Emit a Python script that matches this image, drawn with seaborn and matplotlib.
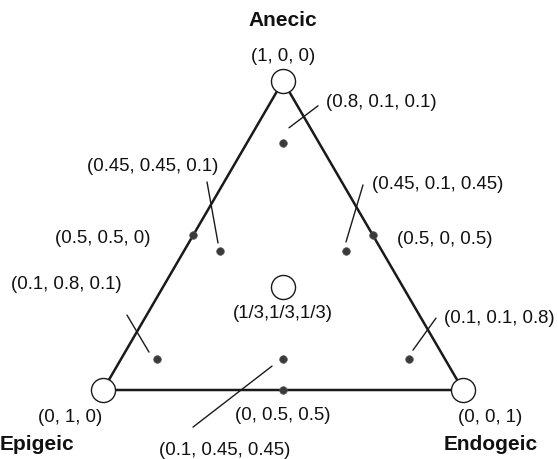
import numpy as np
import pandas as pd
import matplotlib
matplotlib.use("Agg")
import matplotlib.pyplot as plt
import seaborn as sns

# Functional-group proportions (anecic, epigeic, endogeic)
anecic   = [1, 0, 0, 1/3, 0.5, 0.5, 0, 0.8, 0.45, 0.45, 0.1, 0.1, 0.1]
epigeic  = [0, 1, 0, 1/3, 0.5, 0, 0.5, 0.1, 0.45, 0.1, 0.8, 0.1, 0.45]
endogeic = [0, 0, 1, 1/3, 0, 0.5, 0.5, 0.1, 0.1, 0.45, 0.1, 0.8, 0.45]
point_labels = ["(1, 0, 0)", "(0, 1, 0)", "(0, 0, 1)", "(1/3,1/3,1/3)",
                "(0.5, 0.5, 0)", "(0.5, 0, 0.5)", "(0, 0.5, 0.5)",
                "(0.8, 0.1, 0.1)", "(0.45, 0.45, 0.1)", "(0.45, 0.1, 0.45)",
                "(0.1, 0.8, 0.1)", "(0.1, 0.1, 0.8)", "(0.1, 0.45, 0.45)"]
marker_kind = ["open", "open", "open", "open",
               "dot", "dot", "dot", "dot", "dot", "dot", "dot", "dot", "dot"]
corner_names = ["Anecic", "Epigeic", "Endogeic"]

# Ternary -> cartesian (epigeic at left, endogeic at right, anecic on top)
H = 309 / 360
df = pd.DataFrame({"anecic": anecic, "epigeic": epigeic, "endogeic": endogeic,
                   "label": point_labels, "kind": marker_kind})
df["x"] = df["endogeic"] + 0.5 * df["anecic"]
df["y"] = H * df["anecic"]

# Label placement: (dx, dy) in pixels from the point, ha,
# optional leader line (x0, y0, x1, y1) in pixels from the point (y down)
layout = {
    "(1, 0, 0)":         ((0, -24), "center", None),
    "(0, 1, 0)":         ((-33, 27), "center", None),
    "(0, 0, 1)":         ((27, 27), "center", None),
    "(1/3,1/3,1/3)":     ((0, 26), "center", None),
    "(0.5, 0.5, 0)":     ((-90, 3), "center", None),
    "(0.5, 0, 0.5)":     ((72, 4), "center", None),
    "(0, 0.5, 0.5)":     ((0, 26), "center", None),
    "(0.8, 0.1, 0.1)":   ((43, -40), "left", (6, -15, 35, -37)),
    "(0.45, 0.45, 0.1)": ((-67, -84), "center", (-13, -69, -2, -8)),
    "(0.45, 0.1, 0.45)": ((26, -66), "left", (17, -66, 0, -9)),
    "(0.1, 0.8, 0.1)":   ((-35, -75), "right", (-30, -44, -8, -7)),
    "(0.1, 0.1, 0.8)":   ((35, -41), "left", (27, -41, 4, -9)),
    "(0.1, 0.45, 0.45)": ((-58, 91), "center", (-11, 7, -90, 68)),
}
corner_offsets = [(0, -61), (-66, 54), (28, 54)]

sns.set_style("white")
plt.rcParams["font.family"] = ["Liberation Sans", "DejaVu Sans"]

W, Hpx = 558, 459
fig = plt.figure(figsize=(W / 100, Hpx / 100), dpi=100)
ax = fig.add_axes([0, 0, 1, 1])
scale = 360.0  # pixels per unit
ax.set_xlim(-103 / scale, (W - 103) / scale)
ax.set_ylim(-(Hpx - 390) / scale, 390 / scale)
ax.axis("off")

# Triangle outline through the three pure-group corners
corners = df[df["kind"] == "open"].iloc[:3]
tx = list(corners["x"]) + [corners["x"].iloc[0]]
ty = list(corners["y"]) + [corners["y"].iloc[0]]
ax.plot(tx, ty, color="#1a1a1a", lw=1.8, zorder=1, solid_joinstyle="miter")

sns.scatterplot(data=df[df["kind"] == "open"], x="x", y="y", ax=ax,
                s=300, facecolor="white", edgecolor="#1a1a1a", linewidth=1.0,
                zorder=3, legend=False)
sns.scatterplot(data=df[df["kind"] == "dot"], x="x", y="y", ax=ax,
                s=30, color="#3a3a3a", edgecolor="#555555", linewidth=0.5,
                marker="o", zorder=3, legend=False)

def px(x, y, dx, dy):
    return x + dx / scale, y - dy / scale

for _, r in df.iterrows():
    (dx, dy), ha, leader = layout[r["label"]]
    tx_, ty_ = px(r["x"], r["y"], dx, dy)
    ax.text(tx_, ty_, r["label"], ha=ha, va="center", fontsize=13.4,
            color="#111111", zorder=4)
    if leader is not None:
        x0, y0 = px(r["x"], r["y"], leader[0], leader[1])
        x1, y1 = px(r["x"], r["y"], leader[2], leader[3])
        ax.plot([x0, x1], [y0, y1], color="#1a1a1a", lw=1.0, zorder=2)

for i, name in enumerate(corner_names):
    cx, cy = corners["x"].iloc[i], corners["y"].iloc[i]
    dx, dy = corner_offsets[i]
    tx_, ty_ = px(cx, cy, dx, dy)
    ax.text(tx_, ty_, name, ha="center", va="center", fontsize=15,
            fontweight="bold", color="#111111")

fig.savefig("out.png", dpi=100, facecolor="white")
